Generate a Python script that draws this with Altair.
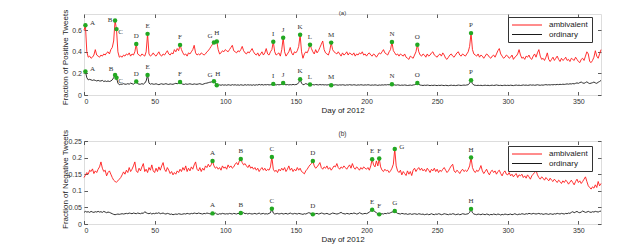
import altair as alt
import pandas as pd

# ---------------- data ----------------
days = list(range(0, 367))
series_names = ["ambivalent", "ordinary"]
x_ticks = [0, 50, 100, 150, 200, 250, 300, 350]
pos_y_ticks = [0, 0.2, 0.4, 0.6]
neg_y_ticks = [0, 0.05, 0.1, 0.15, 0.2, 0.25]

pos_ambivalent = [
    0.60, 0.645, 0.40, 0.35, 0.36, 0.34, 0.35, 0.37, 0.42, 0.37,
    0.36, 0.35, 0.37, 0.36, 0.38, 0.37, 0.39, 0.40, 0.38, 0.42,
    0.44, 0.50, 0.69, 0.61, 0.40, 0.35, 0.36, 0.35, 0.37, 0.36,
    0.38, 0.37, 0.39, 0.36, 0.38, 0.37, 0.40, 0.473, 0.38, 0.37,
    0.36, 0.38, 0.37, 0.36, 0.40, 0.566, 0.38, 0.36, 0.37, 0.39,
    0.37, 0.36, 0.38, 0.40, 0.37, 0.36, 0.38, 0.37, 0.39, 0.41,
    0.38, 0.37, 0.39, 0.38, 0.42, 0.40, 0.43, 0.41, 0.464, 0.42,
    0.39, 0.37, 0.38, 0.36, 0.39, 0.38, 0.40, 0.42, 0.46, 0.39,
    0.37, 0.38, 0.37, 0.39, 0.38, 0.37, 0.38, 0.40, 0.41, 0.43,
    0.45, 0.47, 0.487, 0.48, 0.496, 0.42, 0.38, 0.39, 0.41, 0.40,
    0.42, 0.41, 0.40, 0.42, 0.44, 0.46, 0.41, 0.40, 0.39, 0.41,
    0.40, 0.42, 0.45, 0.41, 0.39, 0.38, 0.40, 0.39, 0.41, 0.43,
    0.40, 0.38, 0.37, 0.39, 0.36, 0.38, 0.40, 0.37, 0.39, 0.43,
    0.38, 0.37, 0.40, 0.42, 0.494, 0.40, 0.37, 0.38, 0.39, 0.36,
    0.42, 0.53, 0.40, 0.36, 0.38, 0.40, 0.44, 0.39, 0.37, 0.40,
    0.39, 0.41, 0.45, 0.557, 0.40, 0.34, 0.38, 0.40, 0.39, 0.42,
    0.466, 0.43, 0.40, 0.38, 0.42, 0.39, 0.41, 0.44, 0.47, 0.50,
    0.42, 0.39, 0.38, 0.37, 0.41, 0.485, 0.42, 0.40, 0.39, 0.38,
    0.40, 0.38, 0.36, 0.39, 0.37, 0.38, 0.40, 0.37, 0.39, 0.38,
    0.37, 0.39, 0.36, 0.38, 0.37, 0.39, 0.38, 0.40, 0.37, 0.38,
    0.36, 0.38, 0.39, 0.37, 0.36, 0.38, 0.37, 0.35, 0.37, 0.39,
    0.38, 0.40, 0.42, 0.39, 0.38, 0.37, 0.40, 0.42, 0.49, 0.41,
    0.39, 0.37, 0.38, 0.36, 0.38, 0.37, 0.36, 0.38, 0.35, 0.34,
    0.33, 0.36, 0.35, 0.34, 0.37, 0.40, 0.466, 0.40, 0.37, 0.36,
    0.38, 0.37, 0.35, 0.38, 0.36, 0.37, 0.39, 0.40, 0.37, 0.36,
    0.35, 0.37, 0.38, 0.36, 0.39, 0.37, 0.34, 0.33, 0.35, 0.37,
    0.38, 0.36, 0.35, 0.37, 0.39, 0.40, 0.37, 0.36, 0.38, 0.37,
    0.36, 0.38, 0.40, 0.45, 0.573, 0.42, 0.38, 0.37, 0.36, 0.38,
    0.35, 0.37, 0.36, 0.34, 0.36, 0.38, 0.37, 0.35, 0.34, 0.36,
    0.37, 0.35, 0.38, 0.41, 0.43, 0.38, 0.36, 0.34, 0.35, 0.37,
    0.36, 0.34, 0.35, 0.37, 0.33, 0.35, 0.36, 0.38, 0.42, 0.37,
    0.34, 0.35, 0.33, 0.36, 0.35, 0.37, 0.34, 0.33, 0.36, 0.38,
    0.35, 0.39, 0.42, 0.36, 0.33, 0.34, 0.32, 0.35, 0.39, 0.33,
    0.31, 0.33, 0.35, 0.32, 0.34, 0.36, 0.33, 0.31, 0.34, 0.32,
    0.33, 0.35, 0.32, 0.33, 0.31, 0.34, 0.33, 0.32, 0.35, 0.33,
    0.31, 0.30, 0.33, 0.34, 0.32, 0.36, 0.40, 0.38, 0.31, 0.30,
    0.32, 0.35, 0.41, 0.36, 0.34, 0.38, 0.42,
]

pos_ordinary = [
    0.20, 0.218, 0.16, 0.14, 0.145, 0.14, 0.135, 0.14, 0.135, 0.13,
    0.135, 0.13, 0.13, 0.135, 0.125, 0.13, 0.125, 0.13, 0.125, 0.13,
    0.14, 0.16, 0.185, 0.16, 0.11, 0.095, 0.10, 0.10, 0.105, 0.10,
    0.10, 0.105, 0.10, 0.11, 0.105, 0.10, 0.11, 0.124, 0.105, 0.10,
    0.10, 0.105, 0.10, 0.11, 0.13, 0.185, 0.11, 0.10, 0.105, 0.10,
    0.1, 0.104, 0.099, 0.096, 0.101, 0.104, 0.099, 0.101, 0.105, 0.1,
    0.098, 0.103, 0.1, 0.099, 0.104, 0.108, 0.104, 0.11, 0.121, 0.105,
    0.1, 0.098, 0.103, 0.099, 0.101, 0.104, 0.1, 0.098, 0.103, 0.1,
    0.099, 0.102, 0.105, 0.1, 0.098, 0.104, 0.108, 0.11, 0.114, 0.118,
    0.12, 0.124, 0.127, 0.11, 0.09, 0.089, 0.094, 0.09, 0.095, 0.091,
    0.094, 0.09, 0.095, 0.093, 0.09, 0.096, 0.092, 0.095, 0.091, 0.094,
    0.09, 0.095, 0.092, 0.09, 0.096, 0.091, 0.095, 0.092, 0.094, 0.09,
    0.095, 0.09, 0.095, 0.092, 0.098, 0.093, 0.097, 0.092, 0.096, 0.094,
    0.097, 0.093, 0.095, 0.098, 0.103, 0.096, 0.093, 0.097, 0.094, 0.096,
    0.099, 0.112, 0.098, 0.094, 0.097, 0.093, 0.096, 0.094, 0.098, 0.095,
    0.097, 0.1, 0.115, 0.145, 0.11, 0.095, 0.098, 0.106, 0.1, 0.097,
    0.097, 0.094, 0.096, 0.093, 0.097, 0.095, 0.093, 0.097, 0.094, 0.096,
    0.093, 0.095, 0.092, 0.096, 0.093, 0.091, 0.094, 0.092, 0.095, 0.093,
    0.091, 0.094, 0.092, 0.095, 0.093, 0.09, 0.094, 0.092, 0.096, 0.093,
    0.092, 0.095, 0.093, 0.09, 0.094, 0.092, 0.095, 0.093, 0.091, 0.094,
    0.092, 0.095, 0.093, 0.09, 0.093, 0.091, 0.094, 0.092, 0.089, 0.093,
    0.091, 0.094, 0.092, 0.095, 0.093, 0.096, 0.094, 0.097, 0.1, 0.096,
    0.093, 0.091, 0.094, 0.092, 0.089, 0.092, 0.09, 0.093, 0.091, 0.088,
    0.09, 0.092, 0.089, 0.093, 0.095, 0.1, 0.112, 0.098, 0.092, 0.09,
    0.088, 0.091, 0.089, 0.092, 0.09, 0.087, 0.09, 0.088, 0.091, 0.089,
    0.087, 0.09, 0.088, 0.091, 0.089, 0.087, 0.09, 0.088, 0.086, 0.089,
    0.091, 0.088, 0.09, 0.087, 0.089, 0.092, 0.09, 0.088, 0.09, 0.092,
    0.09, 0.093, 0.095, 0.11, 0.136, 0.105, 0.092, 0.09, 0.088, 0.09,
    0.088, 0.09, 0.087, 0.089, 0.091, 0.088, 0.09, 0.087, 0.089, 0.091,
    0.088, 0.09, 0.093, 0.09, 0.088, 0.09, 0.087, 0.089, 0.091, 0.088,
    0.09, 0.088, 0.091, 0.089, 0.087, 0.09, 0.092, 0.089, 0.091, 0.088,
    0.09, 0.093, 0.09, 0.092, 0.089, 0.091, 0.094, 0.091, 0.093, 0.09,
    0.092, 0.095, 0.092, 0.09, 0.093, 0.091, 0.094, 0.096, 0.093, 0.095,
    0.093, 0.096, 0.094, 0.097, 0.095, 0.098, 0.096, 0.099, 0.097, 0.1,
    0.098, 0.1, 0.103, 0.1, 0.104, 0.102, 0.106, 0.103, 0.108, 0.112,
    0.108, 0.115, 0.12, 0.112, 0.108, 0.115, 0.122, 0.112, 0.106, 0.11,
    0.114, 0.12, 0.112, 0.108, 0.118, 0.125, 0.135,
]

neg_ambivalent = [
    0.14, 0.147, 0.155, 0.15, 0.162, 0.158, 0.166, 0.152, 0.16, 0.155,
    0.165, 0.172, 0.187, 0.168, 0.158, 0.162, 0.145, 0.155, 0.16, 0.15,
    0.14, 0.132, 0.128, 0.126, 0.13, 0.135, 0.14, 0.148, 0.157, 0.15,
    0.162, 0.155, 0.17, 0.158, 0.165, 0.175, 0.187, 0.16, 0.155, 0.168,
    0.16, 0.172, 0.182, 0.158, 0.165, 0.155, 0.17, 0.162, 0.178, 0.16,
    0.155, 0.168, 0.158, 0.172, 0.162, 0.175, 0.185, 0.165, 0.158, 0.17,
    0.162, 0.152, 0.158, 0.148, 0.155, 0.15, 0.16, 0.155, 0.165, 0.158,
    0.17, 0.162, 0.175, 0.158, 0.168, 0.16, 0.172, 0.165, 0.178, 0.187,
    0.165, 0.16, 0.17, 0.158, 0.168, 0.162, 0.175, 0.17, 0.18, 0.172,
    0.178, 0.19, 0.175, 0.168, 0.172, 0.165, 0.17, 0.162, 0.175, 0.168,
    0.172, 0.165, 0.178, 0.17, 0.175, 0.168, 0.172, 0.18, 0.185, 0.178,
    0.19, 0.196, 0.185, 0.178, 0.182, 0.175, 0.17, 0.178, 0.168, 0.172,
    0.165, 0.17, 0.162, 0.168, 0.158, 0.165, 0.17, 0.162, 0.168, 0.16,
    0.165, 0.162, 0.172, 0.202, 0.165, 0.158, 0.162, 0.155, 0.165, 0.16,
    0.168, 0.162, 0.17, 0.158, 0.165, 0.175, 0.162, 0.168, 0.158, 0.165,
    0.16, 0.17, 0.162, 0.168, 0.158, 0.155, 0.151, 0.16, 0.165, 0.172,
    0.178, 0.182, 0.19, 0.175, 0.168, 0.172, 0.178, 0.185, 0.17, 0.165,
    0.172, 0.168, 0.175, 0.165, 0.17, 0.162, 0.168, 0.175, 0.172, 0.182,
    0.17, 0.165, 0.172, 0.168, 0.175, 0.17, 0.165, 0.172, 0.178, 0.168,
    0.182, 0.17, 0.165, 0.172, 0.168, 0.162, 0.17, 0.165, 0.172, 0.168,
    0.165, 0.17, 0.162, 0.175, 0.195, 0.178, 0.172, 0.19, 0.175, 0.197,
    0.172, 0.162, 0.158, 0.165, 0.16, 0.162, 0.155, 0.16, 0.168, 0.18,
    0.226, 0.175, 0.16, 0.155, 0.162, 0.148, 0.158, 0.152, 0.146, 0.16,
    0.15, 0.158, 0.146, 0.162, 0.168, 0.158, 0.165, 0.17, 0.162, 0.168,
    0.16, 0.165, 0.158, 0.168, 0.162, 0.155, 0.165, 0.16, 0.168, 0.158,
    0.165, 0.155, 0.162, 0.158, 0.165, 0.17, 0.162, 0.155, 0.16, 0.168,
    0.175, 0.18, 0.16, 0.155, 0.162, 0.158, 0.152, 0.16, 0.165, 0.158,
    0.162, 0.158, 0.165, 0.175, 0.2, 0.17, 0.16, 0.155, 0.162, 0.158,
    0.165, 0.176, 0.16, 0.152, 0.158, 0.165, 0.155, 0.148, 0.158, 0.162,
    0.155, 0.16, 0.15, 0.158, 0.162, 0.152, 0.145, 0.155, 0.16, 0.15,
    0.148, 0.155, 0.145, 0.15, 0.142, 0.148, 0.152, 0.14, 0.148, 0.145,
    0.15, 0.14, 0.145, 0.138, 0.148, 0.142, 0.135, 0.145, 0.15, 0.155,
    0.162, 0.148, 0.14, 0.135, 0.142, 0.138, 0.132, 0.14, 0.135, 0.13,
    0.138, 0.132, 0.128, 0.135, 0.13, 0.125, 0.132, 0.128, 0.122, 0.13,
    0.125, 0.132, 0.128, 0.12, 0.126, 0.132, 0.125, 0.118, 0.128, 0.135,
    0.125, 0.13, 0.122, 0.128, 0.135, 0.142, 0.128, 0.115, 0.11, 0.105,
    0.112, 0.108, 0.118, 0.11, 0.128, 0.115, 0.122,
]

neg_ordinary = [
    0.035, 0.038, 0.036, 0.037, 0.035, 0.038, 0.036, 0.035, 0.037, 0.036,
    0.038, 0.036, 0.037, 0.035, 0.038, 0.036, 0.034, 0.036, 0.035, 0.033,
    0.031, 0.029, 0.028, 0.029, 0.03, 0.029, 0.03, 0.031, 0.03, 0.031,
    0.032, 0.031, 0.033, 0.032, 0.031, 0.033, 0.032, 0.031, 0.033, 0.032,
    0.031, 0.033, 0.032, 0.037, 0.034, 0.032, 0.031, 0.033, 0.03, 0.032,
    0.031, 0.033, 0.032, 0.034, 0.031, 0.032, 0.033, 0.031, 0.03, 0.032,
    0.031, 0.029, 0.03, 0.028, 0.029, 0.03, 0.029, 0.031, 0.03, 0.029,
    0.03, 0.031, 0.03, 0.032, 0.031, 0.03, 0.032, 0.031, 0.033, 0.032,
    0.031, 0.033, 0.032, 0.031, 0.03, 0.032, 0.031, 0.033, 0.032, 0.031,
    0.03, 0.032, 0.031, 0.033, 0.03, 0.029, 0.031, 0.03, 0.032, 0.031,
    0.03, 0.031, 0.03, 0.032, 0.031, 0.03, 0.032, 0.031, 0.03, 0.032,
    0.031, 0.033, 0.032, 0.034, 0.031, 0.032, 0.03, 0.032, 0.031, 0.03,
    0.031, 0.032, 0.03, 0.031, 0.033, 0.03, 0.031, 0.032, 0.03, 0.031,
    0.03, 0.032, 0.034, 0.046, 0.033, 0.03, 0.031, 0.032, 0.03, 0.031,
    0.032, 0.03, 0.031, 0.032, 0.03, 0.031, 0.033, 0.031, 0.03, 0.032,
    0.031, 0.03, 0.032, 0.031, 0.03, 0.029, 0.031, 0.03, 0.032, 0.034,
    0.033, 0.031, 0.029, 0.03, 0.031, 0.032, 0.03, 0.031, 0.033, 0.032,
    0.03, 0.031, 0.032, 0.03, 0.029, 0.031, 0.033, 0.032, 0.031, 0.03,
    0.031, 0.033, 0.035, 0.032, 0.031, 0.03, 0.032, 0.031, 0.03, 0.032,
    0.031, 0.033, 0.032, 0.03, 0.031, 0.034, 0.032, 0.03, 0.031, 0.032,
    0.031, 0.033, 0.036, 0.04, 0.043, 0.041, 0.037, 0.034, 0.031, 0.029,
    0.03, 0.031, 0.03, 0.032, 0.031, 0.033, 0.032, 0.034, 0.036, 0.037,
    0.039, 0.035, 0.032, 0.031, 0.03, 0.032, 0.031, 0.03, 0.031, 0.029,
    0.03, 0.031, 0.029, 0.03, 0.031, 0.03, 0.029, 0.031, 0.03, 0.029,
    0.03, 0.028, 0.029, 0.03, 0.028, 0.029, 0.031, 0.029, 0.028, 0.03,
    0.029, 0.031, 0.03, 0.028, 0.029, 0.031, 0.03, 0.029, 0.028, 0.03,
    0.029, 0.031, 0.03, 0.028, 0.029, 0.03, 0.028, 0.029, 0.031, 0.03,
    0.029, 0.03, 0.031, 0.035, 0.045, 0.034, 0.03, 0.029, 0.028, 0.03,
    0.029, 0.028, 0.03, 0.029, 0.028, 0.03, 0.029, 0.027, 0.029, 0.028,
    0.03, 0.029, 0.028, 0.03, 0.029, 0.027, 0.029, 0.028, 0.03, 0.029,
    0.028, 0.029, 0.03, 0.028, 0.029, 0.031, 0.029, 0.028, 0.03, 0.029,
    0.031, 0.03, 0.029, 0.031, 0.03, 0.032, 0.031, 0.03, 0.032, 0.031,
    0.03, 0.031, 0.032, 0.03, 0.031, 0.029, 0.03, 0.031, 0.03, 0.029,
    0.031, 0.03, 0.029, 0.031, 0.03, 0.032, 0.031, 0.03, 0.032, 0.031,
    0.03, 0.032, 0.031, 0.033, 0.032, 0.035, 0.037, 0.034, 0.036, 0.038,
    0.035, 0.034, 0.036, 0.039, 0.037, 0.035, 0.036, 0.038, 0.036, 0.035,
    0.037, 0.036, 0.038, 0.037, 0.036, 0.038, 0.039,
]

pos_event_days = [1, 22, 23, 37, 45, 68, 92, 94, 134, 141, 153, 160, 175, 218, 236, 274]
pos_event_labels = ["A", "B", "C", "D", "E", "F", "G", "H", "I", "J", "K", "L", "M", "N", "O", "P"]
neg_event_days = [91, 111, 133, 162, 204, 209, 220, 274]
neg_event_labels = ["A", "B", "C", "D", "E", "F", "G", "H"]
panel_titles = ["(a)", "(b)"]

# ---------------- styles ----------------
RED = "#ff1a1a"
BLACK = "#1a1a1a"
GREEN = "#22a822"
FRAME = "#333333"
SANS = "Liberation Sans"
SERIF = "Liberation Serif"
TICK = 3.5
W = 517

OFFSETS = {
    "above": (0, -8),
    "right": (7, -2),
    "left": (-5, 0),
    "upleft": (-4, -6),
    "downright": (4, 3),
    "high": (1, -11),
}
pos_place = {
    "ambivalent": {"A": "right", "B": "left", "C": "downright", "G": "upleft"},
    "ordinary": {"A": "right", "B": "upleft", "C": "downright", "G": "upleft", "H": "high"},
}
neg_place = {"ambivalent": {"G": "right"}, "ordinary": {}}


def panel(amb, ordi, ev_days, ev_labels, place, ydom, yticks, ytitle,
          ptitle, height, title_dy, title_size, legend_y, ytitle_y):
    n = len(days)
    lines = pd.DataFrame({
        "day": days + days,
        "value": amb + ordi,
        "series": [series_names[0]] * n + [series_names[1]] * n,
    })
    rows = []
    for s, vals in ((series_names[0], amb), (series_names[1], ordi)):
        for d, lab in zip(ev_days, ev_labels):
            rows.append({"day": d, "value": vals[d], "series": s, "label": lab,
                         "place": place[s].get(lab, "above")})
    ev = pd.DataFrame(rows)

    xs = alt.Scale(domain=[0, 366], nice=False, zero=False)
    ys = alt.Scale(domain=ydom, nice=False)

    common = dict(domain=False, grid=False, offset=-TICK, tickSize=TICK,
                  tickColor=FRAME, tickWidth=0.8, minExtent=0)
    x_axis = alt.Axis(orient="bottom", values=x_ticks, labelPadding=2,
                      labelFontSize=7, labelFont=SANS, labelColor="#333",
                      title="Day of 2012", titleFont=SANS, titleFontSize=8,
                      titleFontWeight="normal", titleColor="#222",
                      titleY=15 + TICK, titleBaseline="middle", **common)
    y_axis = alt.Axis(orient="left", values=yticks, format="~g", labelPadding=2.5,
                      labelFontSize=7, labelFont=SANS, labelColor="#333",
                      title=ytitle, titleFont=SANS, titleFontSize=8,
                      titleFontWeight="normal", titleColor="#222",
                      titleX=-18.3 - TICK, titleY=ytitle_y,
                      titleBaseline="middle", **common)
    top_axis = alt.Axis(orient="top", values=x_ticks, labels=False, title=None, **common)
    right_axis = alt.Axis(orient="right", values=yticks, labels=False, title=None, **common)

    line_layer = alt.Chart(lines).mark_line(strokeWidth=0.9).encode(
        x=alt.X("day:Q", scale=xs, axis=x_axis),
        y=alt.Y("value:Q", scale=ys, axis=y_axis),
        color=alt.Color(
            "series:N",
            scale=alt.Scale(domain=series_names, range=[RED, BLACK]),
            legend=alt.Legend(
                orient="none", legendX=424, legendY=legend_y, title=None,
                fillColor="white", strokeColor=FRAME, padding=3.5,
                symbolType="M-1,0H6.5", symbolSize=64, symbolStrokeWidth=1,
                labelFont=SANS, labelFontSize=8, labelColor="#222",
                labelOffset=28.5, rowPadding=0.5, cornerRadius=0,
            ),
        ),
    )
    tick_layer = alt.Chart(lines).mark_point(opacity=0, size=1).encode(
        x=alt.X("day:Q", scale=xs, axis=top_axis),
        y=alt.Y("value:Q", scale=ys, axis=right_axis),
    )
    marker_layer = alt.Chart(ev).mark_circle(size=20, color=GREEN, opacity=1).encode(
        x=alt.X("day:Q", scale=xs, axis=None),
        y=alt.Y("value:Q", scale=ys, axis=None),
    )
    title_layer = alt.Chart(pd.DataFrame({"t": [ptitle]})).mark_text(
        fontSize=title_size, font=SANS, color="#333", baseline="middle", align="center"
    ).encode(x=alt.value(W / 2), y=alt.value(title_dy), text="t:N")
    layers = [line_layer, tick_layer, marker_layer, title_layer]
    for cat, (dx, dy) in OFFSETS.items():
        sub = ev[ev["place"] == cat]
        if len(sub) == 0:
            continue
        layers.append(
            alt.Chart(sub).mark_text(dx=dx, dy=dy, fontSize=7, font=SERIF,
                                     color="#333", baseline="middle", align="center").encode(
                x=alt.X("day:Q", scale=xs, axis=None),
                y=alt.Y("value:Q", scale=ys, axis=None),
                text="label:N",
            )
        )
    return alt.layer(*layers).resolve_axis(x="independent", y="independent").properties(
        width=W, height=height,
    )


top = panel(pos_ambivalent, pos_ordinary, pos_event_days, pos_event_labels, pos_place,
            [0, 0.75], pos_y_ticks, "Fraction of Positive Tweets", panel_titles[0],
            81, -1.5, 6, 3, 43)
bottom = panel(neg_ambivalent, neg_ordinary, neg_event_days, neg_event_labels, neg_place,
               [0, 0.25], neg_y_ticks, "Fraction of Negative Tweets", panel_titles[1],
               83, -7, 6.5, 5, 38)

chart = alt.vconcat(top, bottom, spacing=46, bounds="flush").resolve_legend(
    color="independent"
).properties(
    padding={"left": 53, "top": 0, "right": 0, "bottom": 0},
).configure_view(stroke=FRAME, strokeWidth=0.8).configure(background="white")

chart.save("out.html", embed_options={"renderer": "svg", "actions": False})
